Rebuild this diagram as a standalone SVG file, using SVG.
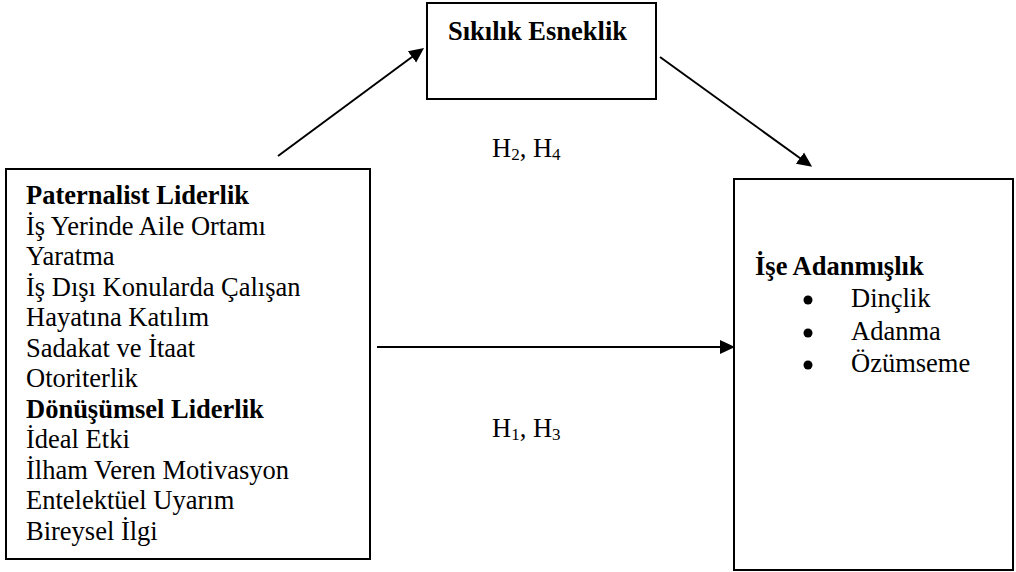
<svg xmlns="http://www.w3.org/2000/svg" width="1016" height="572" viewBox="0 0 1016 572">
<style>
.box{fill:#fff;stroke:#000;stroke-width:2}
.t{font-family:"Liberation Serif","Times New Roman","DejaVu Serif",serif;font-size:26.5px;fill:#000}
.b{font-weight:bold}
.sub{font-size:17px}
.conn{stroke:#000;stroke-width:2;fill:none}
</style>
<defs>
<marker id="ah" markerUnits="userSpaceOnUse" markerWidth="16" markerHeight="16" refX="5" refY="8" orient="auto">
<path d="M0,1 L15,8 L0,15 z" fill="#000"/>
</marker>
</defs>
<rect width="1016" height="572" fill="#fff"/>
<g id="connectors">
<line class="conn" x1="278" y1="156" x2="416" y2="54" marker-end="url(#ah)"/>
<line class="conn" x1="660" y1="57" x2="804" y2="161" marker-end="url(#ah)"/>
<line class="conn" x1="377" y1="347" x2="725" y2="347" marker-end="url(#ah)"/>
</g>
<g id="node-sikilik">
<rect class="box" x="427" y="3" width="229" height="96"/>
<text class="t b" x="448" y="40">Sıkılık Esneklik</text>
</g>
<g id="node-liderlik">
<rect class="box" x="6" y="169" width="364" height="390"/>
<text class="t" x="26">
<tspan class="b" x="26" y="204">Paternalist Liderlik</tspan>
<tspan x="26" y="234.5">İş Yerinde Aile Ortamı</tspan>
<tspan x="26" y="265">Yaratma</tspan>
<tspan x="26" y="295.5">İş Dışı Konularda Çalışan</tspan>
<tspan x="26" y="326">Hayatına Katılım</tspan>
<tspan x="26" y="356.5">Sadakat ve İtaat</tspan>
<tspan x="26" y="387">Otoriterlik</tspan>
<tspan class="b" x="26" y="417.5">Dönüşümsel Liderlik</tspan>
<tspan x="26" y="448">İdeal Etki</tspan>
<tspan x="26" y="478.5">İlham Veren Motivasyon</tspan>
<tspan x="26" y="509">Entelektüel Uyarım</tspan>
<tspan x="26" y="540">Bireysel İlgi</tspan>
</text>
</g>
<g id="node-adanmislik">
<rect class="box" x="734" y="179" width="279" height="391"/>
<text class="t b" x="755" y="275">İşe Adanmışlık</text>
<circle cx="808" cy="300" r="4.5" fill="#000"/>
<circle cx="808" cy="333" r="4.5" fill="#000"/>
<circle cx="808" cy="365" r="4.5" fill="#000"/>
<text class="t" x="851" y="307">Dinçlik</text>
<text class="t" x="851" y="340">Adanma</text>
<text class="t" x="851" y="372">Özümseme</text>
</g>
<g id="labels">
<text class="t" x="492" y="157">H<tspan class="sub" dy="3">2</tspan><tspan dy="-3">, H</tspan><tspan class="sub" dy="3">4</tspan></text>
<text class="t" x="492" y="437">H<tspan class="sub" dy="3">1</tspan><tspan dy="-3">, H</tspan><tspan class="sub" dy="3">3</tspan></text>
</g>
</svg>
